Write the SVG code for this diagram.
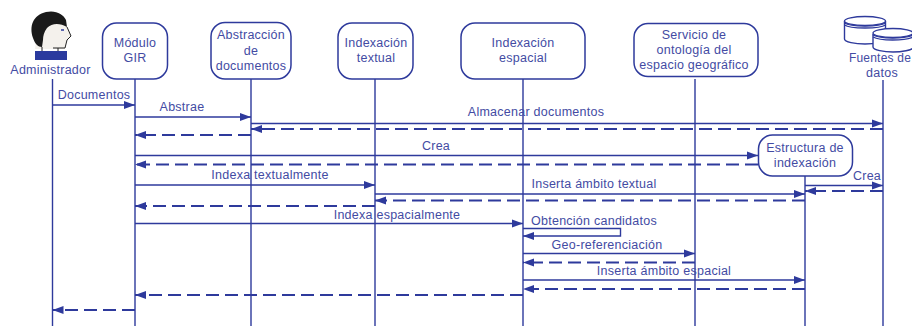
<svg xmlns="http://www.w3.org/2000/svg" width="912" height="326" viewBox="0 0 912 326">
<style>
text{font-family:"Liberation Sans",Arial,sans-serif;font-size:12.5px;letter-spacing:.25px;fill:#434ba3;text-anchor:middle}
.n{fill:#fff;stroke:#2e3a9c;stroke-width:1.5}
.l{fill:none;stroke:#2e3a9c;stroke-width:1.4}
.s{marker-end:url(#a)}
.d{stroke-width:1.8;stroke-dasharray:13 6;marker-end:url(#a)}
</style>
<defs><marker id="a" markerUnits="userSpaceOnUse" markerWidth="12" markerHeight="10" refX="11" refY="4.500" orient="auto"><path d="M0 .5L11 4.500L0 8.500Z" fill="#2e3a9c"/></marker></defs>
<rect width="912" height="326" fill="#fff"/>
<g id="connectors">
<path class="l" d="M52.500 79V326M135 79V326M251 79V326M375 79V326M523 79V326M695 79V326M805 176V326M883 80V326"/>
<path class="l s" d="M52.500 105H135"/>
<path class="l s" d="M135 117H251"/>
<path class="l s" d="M251 123.500H883"/>
<path class="l d" d="M883 129H251"/>
<path class="l d" d="M251 135H135"/>
<path class="l s" d="M135 155.500H758"/>
<path class="l d" d="M758 164.500H135"/>
<path class="l s" d="M805 185.500H883"/>
<path class="l d" d="M883 191H805"/>
<path class="l s" d="M135 185H375"/>
<path class="l s" d="M375 194H805"/>
<path class="l d" d="M805 200.500H375"/>
<path class="l d" d="M375 206H135"/>
<path class="l s" d="M135 223.500H523"/>
<path class="l s" d="M523 228.500H620.500V236H523"/>
<path class="l s" d="M523 253.500H695"/>
<path class="l d" d="M695 262.500H523"/>
<path class="l s" d="M523 280H805"/>
<path class="l d" d="M805 289H523"/>
<path class="l d" d="M523 295H135"/>
<path class="l d" d="M135 310H52.500"/>
<text x="94" y="99">Documentos</text>
<text x="182" y="111">Abstrae</text>
<text x="536" y="116">Almacenar documentos</text>
<text x="436" y="150">Crea</text>
<text x="867" y="180">Crea</text>
<text x="270" y="179">Indexa textualmente</text>
<text x="594" y="188">Inserta ámbito textual</text>
<text x="397" y="219">Indexa espacialmente</text>
<text x="594" y="225">Obtención candidatos</text>
<text x="607" y="249">Geo-referenciación</text>
<text x="664" y="275">Inserta ámbito espacial</text>
</g>
<g id="administrador">
<path d="M35 49H65L67 40L71 36L67 27L63 18H42L36 40Z" fill="#f4f1ec"/>
<path d="M33 38C29 26 33 15 46 12C56 10 63 14 66 20L67 27C60 23 52 23 47 28C44 32 43 36 43 40L42 47C38 47 35 44 33 38Z" fill="#1a1a1a"/>
<path d="M61 30H64" stroke="#2e3a9c" stroke-width="1.500"/>
<path d="M67 27L71 36L67 40L65 48H53M58 48V51M42 47V51" fill="none" stroke="#222" stroke-width="1"/>
<path d="M35 51H67V60H35Z" fill="#2a3a9e"/>
<text x="50.500" y="74">Administrador</text>
</g>
<g id="modulo"><rect class="n" x="102.500" y="23" width="65" height="56" rx="14"/><text x="135" y="47">Módulo</text><text x="135" y="62">GIR</text></g>
<g id="abstraccion"><rect class="n" x="211" y="22.500" width="80" height="56.500" rx="14"/><text x="251" y="39">Abstracción</text><text x="251" y="55">de</text><text x="251" y="70">documentos</text></g>
<g id="textual"><rect class="n" x="338" y="23" width="75" height="56" rx="14"/><text x="376" y="47">Indexación</text><text x="376" y="62">textual</text></g>
<g id="espacial"><rect class="n" x="461" y="23" width="124" height="56" rx="14"/><text x="523" y="47">Indexación</text><text x="523" y="62">espacial</text></g>
<g id="ontologia"><rect class="n" x="634" y="23.500" width="124" height="53" rx="14"/><text x="694" y="39">Servicio de</text><text x="694" y="54">ontología del</text><text x="694" y="69">espacio geográfico</text></g>
<g id="estructura"><rect class="n" x="758.500" y="135" width="94" height="41" rx="14"/><text x="805" y="152">Estructura de</text><text x="805" y="167">indexación</text></g>
<g id="fuentes">
<g class="l">
<path style="fill:#fff" d="M844.500 21V39C844.500 42 855 44 865 44C875 44 885.500 42 885.500 39V21"/>
<ellipse style="fill:#fff" cx="865" cy="21" rx="20.500" ry="4.500"/>
<path d="M844.500 23C850 27 880 27 885.500 23M844.500 25C850 29 880 29 885.500 25"/>
<path style="fill:#fff" d="M873 34V47C873 50 884 52 893 52C902 52 912 50 913 48V34"/>
<ellipse style="fill:#fff" cx="893" cy="33" rx="20" ry="4.500"/>
<path d="M873 35C880 39 905 39 913 35M873 37C880 41 905 41 913 37"/>
</g>
<text x="880" y="62" style="font-size:12px;letter-spacing:.2px">Fuentes de</text><text x="882" y="77">datos</text>
</g>
</svg>
